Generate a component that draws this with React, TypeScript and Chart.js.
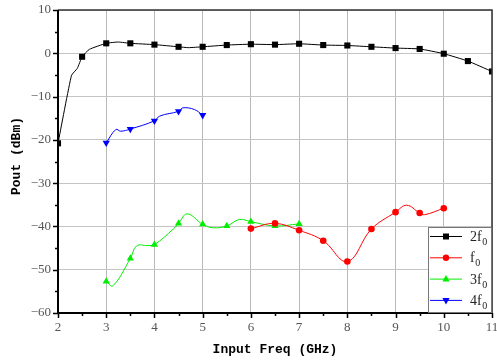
import React, { useEffect, useRef } from "react";
import { Chart, registerables } from "chart.js";

Chart.register(...registerables);

// ---- data ----
const X_TICKS = [2, 3, 4, 5, 6, 7, 8, 9, 10, 11];
const Y_TICKS = [-60, -50, -40, -30, -20, -10, 0, 10];

const FREQ_2F0 = [2, 2.28, 2.4, 2.5, 2.65, 3, 3.25, 3.5, 4, 4.5, 4.7, 5, 5.5, 6, 6.5, 7, 7.5, 8, 8.5, 9, 9.5, 10, 10.5, 11];
const POUT_2F0 = [-20.8, -5.1, -3.5, -0.8, 0.9, 2.3, 2.6, 2.3, 2.0, 1.5, 1.3, 1.5, 1.9, 2.1, 2.0, 2.2, 1.9, 1.8, 1.5, 1.2, 1.0, -0.1, -1.8, -4.2];

const FREQ_F0 = [6, 6.5, 7, 7.5, 8, 8.5, 9, 9.23, 9.5, 9.6, 10];
const POUT_F0 = [-40.5, -39.3, -40.9, -43.3, -48.1, -40.6, -36.7, -35.1, -36.9, -37.3, -35.8];

const FREQ_3F0 = [3, 3.14, 3.5, 3.63, 3.85, 4, 4.4, 4.5, 4.68, 5, 5.21, 5.5, 5.76, 6, 6.5, 7];
const POUT_3F0 = [-52.7, -53.7, -47.4, -44.5, -44.4, -44.2, -40.5, -39.3, -37.1, -39.5, -40.3, -39.9, -38.4, -38.9, -39.9, -39.4];

const FREQ_4F0 = [3, 3.2, 3.3, 3.5, 4, 4.11, 4.5, 4.59, 4.83, 5];
const POUT_4F0 = [-20.7, -17.6, -18.0, -17.5, -15.6, -14.5, -13.4, -12.6, -13.0, -14.3];

const SERIES_NAMES = ["2f", "f", "3f", "4f"];
const SERIES_SUB = ["0", "0", "0", "0"];

const toPts = (xs: number[], ys: number[]) => xs.map((x, i) => ({ x, y: ys[i] }));
const isMarker = (x: number) => Math.abs(x * 2 - Math.round(x * 2)) < 1e-6;

const COLORS = ["#000000", "#ff0000", "#00ee00", "#0000ff"];

function drawMarker(ctx: CanvasRenderingContext2D, kind: number, x: number, y: number, color: string) {
  ctx.save();
  ctx.fillStyle = color;
  ctx.beginPath();
  if (kind === 0) {
    ctx.rect(x - 3, y - 3, 6, 6);
  } else if (kind === 1) {
    ctx.arc(x, y, 3.2, 0, Math.PI * 2);
  } else if (kind === 2) {
    ctx.moveTo(x, y - 4);
    ctx.lineTo(x + 3.6, y + 2.4);
    ctx.lineTo(x - 3.6, y + 2.4);
    ctx.closePath();
  } else {
    ctx.moveTo(x, y + 4);
    ctx.lineTo(x + 3.6, y - 2.4);
    ctx.lineTo(x - 3.6, y - 2.4);
    ctx.closePath();
  }
  ctx.fill();
  ctx.restore();
}

const framePlugin = {
  id: "framePlugin",
  afterDraw(chart: any) {
    const { ctx, chartArea } = chart;
    const { left, right, top, bottom } = chartArea;
    const xs = chart.scales.x;
    const ys = chart.scales.y;
    ctx.save();
    // top & right frame
    ctx.strokeStyle = "#333";
    ctx.lineWidth = 1.5;
    ctx.beginPath();
    ctx.moveTo(left, top);
    ctx.lineTo(right, top);
    ctx.lineTo(right, bottom);
    ctx.stroke();
    // axes
    ctx.strokeStyle = "#000";
    ctx.lineWidth = 2;
    ctx.beginPath();
    ctx.moveTo(left, top);
    ctx.lineTo(left, bottom);
    ctx.lineTo(right, bottom);
    ctx.stroke();
    // ticks
    ctx.lineWidth = 1.5;
    ctx.beginPath();
    for (let v = 2; v <= 11.001; v += 0.5) {
      const px = Math.round(xs.getPixelForValue(v)) + 0.5;
      const len = Math.abs(v - Math.round(v)) < 1e-6 ? 5 : 3;
      ctx.moveTo(px, bottom);
      ctx.lineTo(px, bottom + len);
    }
    for (let v = -60; v <= 10.001; v += 5) {
      const py = Math.round(ys.getPixelForValue(v)) + 0.5;
      const len = v % 10 === 0 ? 5 : 3;
      ctx.moveTo(left, py);
      ctx.lineTo(left - len, py);
    }
    ctx.stroke();

    // titles
    ctx.fillStyle = "#000";
    ctx.font = "bold 13px 'Liberation Mono', monospace";
    ctx.textAlign = "center";
    ctx.textBaseline = "middle";
    ctx.fillText("Input Freq (GHz)", (left + right) / 2, 350);
    ctx.save();
    ctx.translate(17, 156);
    ctx.rotate(-Math.PI / 2);
    ctx.fillText("Pout (dBm)", 0, 0);
    ctx.restore();

    // legend
    const bx = 428, by = 227;
    ctx.fillStyle = "#fff";
    ctx.fillRect(bx, by, right - bx, bottom - by);
    ctx.strokeStyle = "#777";
    ctx.lineWidth = 1;
    ctx.strokeRect(bx + 0.5, by + 0.5, right - bx - 1, bottom - by - 1);
    for (let i = 0; i < 4; i++) {
      const ly = 236.5 + i * 21.3;
      ctx.strokeStyle = COLORS[i];
      ctx.lineWidth = 1;
      ctx.beginPath();
      ctx.moveTo(430, ly);
      ctx.lineTo(462, ly);
      ctx.stroke();
      drawMarker(ctx, i, 446, ly, COLORS[i]);
      ctx.fillStyle = "#222";
      ctx.textAlign = "left";
      ctx.textBaseline = "middle";
      ctx.font = "14px 'Liberation Serif', serif";
      ctx.fillText(SERIES_NAMES[i], 470, ly + 1);
      const w = ctx.measureText(SERIES_NAMES[i]).width;
      ctx.font = "10px 'Liberation Serif', serif";
      ctx.fillText(SERIES_SUB[i], 470 + w + 0.5, ly + 6);
    }
    ctx.restore();
  },
};

const zeroPad = (s: any) => {
  s.paddingLeft = 0;
  s.paddingRight = 0;
  s.paddingTop = 0;
  s.paddingBottom = 0;
};

export default function App() {
  const ref = useRef<HTMLCanvasElement>(null);
  useEffect(() => {
    if (!ref.current) return;
    const mk = (xs: number[], ys: number[], i: number, style: string, r: number, rot = 0) => ({
      label: SERIES_NAMES[i] + SERIES_SUB[i],
      data: toPts(xs, ys),
      borderColor: COLORS[i],
      backgroundColor: COLORS[i],
      borderWidth: 1,
      tension: i === 0 ? 0.15 : 0.4,
      pointStyle: style,
      rotation: rot,
      pointRadius: (c: any) => (c.raw && isMarker(c.raw.x) ? r : 0),
      pointBorderWidth: 0,
      pointHoverRadius: 0,
    });
    const chart = new Chart(ref.current, {
      type: "line",
      data: {
        datasets: [
          mk(FREQ_2F0, POUT_2F0, 0, "rect", 4.3),
          mk(FREQ_F0, POUT_F0, 1, "circle", 3.3),
          mk(FREQ_3F0, POUT_3F0, 2, "triangle", 4.2),
          mk(FREQ_4F0, POUT_4F0, 3, "triangle", 4.2, 180),
        ],
      },
      options: {
        animation: false,
        responsive: false,
        maintainAspectRatio: false,
        layout: { padding: { top: 10, right: 5, left: 0, bottom: 0 } },
        plugins: { legend: { display: false }, tooltip: { enabled: false } },
        scales: {
          x: {
            type: "linear",
            min: 2,
            max: 11,
            afterBuildTicks: (s: any) => {
              s.ticks = X_TICKS.map((v) => ({ value: v }));
            },
            afterFit: (s: any) => {
              s.height = 49;
              zeroPad(s);
            },
            ticks: {
              color: "#555",
              font: { family: "'Liberation Serif', serif", size: 13 },
              padding: 7,
              maxRotation: 0,
            },
            grid: { color: "#b8b8b8", lineWidth: 1, drawTicks: false },
            border: { display: false },
          },
          y: {
            type: "linear",
            min: -60,
            max: 10,
            afterBuildTicks: (s: any) => {
              s.ticks = Y_TICKS.map((v) => ({ value: v }));
            },
            afterFit: (s: any) => {
              s.width = 58;
              zeroPad(s);
            },
            ticks: {
              color: "#555",
              font: { family: "'Liberation Serif', serif", size: 13 },
              padding: 7,
              callback: (v: any) => String(v).replace("-", "\u2212"),
            },
            grid: { color: "#c4c4c4", lineWidth: 1, drawTicks: false },
            border: { display: false },
          },
        },
      },
      plugins: [framePlugin],
    });
    return () => chart.destroy();
  }, []);
  return (
    <div style={{ position: "fixed", left: 0, top: 0, width: 497, height: 362, background: "#fff" }}>
      <canvas ref={ref} width={497} height={362} style={{ width: 497, height: 362 }} />
    </div>
  );
}
